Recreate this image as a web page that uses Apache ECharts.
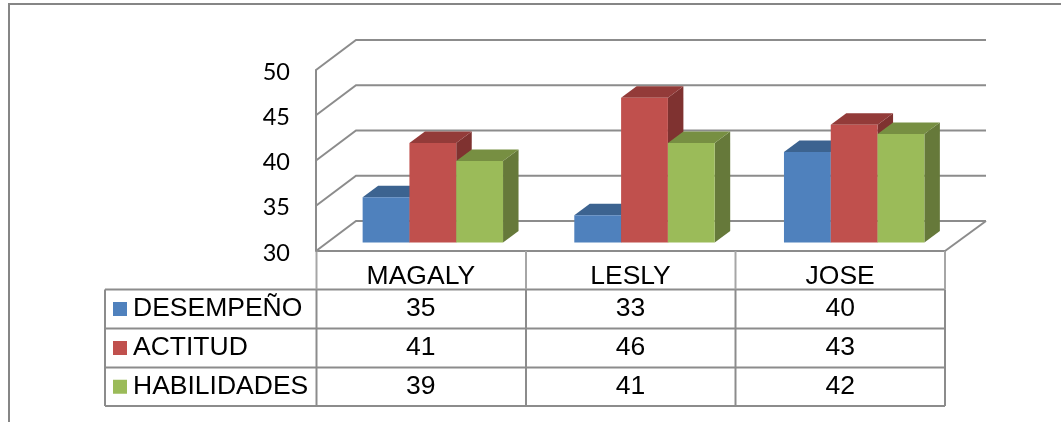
<!DOCTYPE html>
<html>
<head>
<meta charset="utf-8">
<style>
  html, body { margin: 0; padding: 0; background: #fff; }
  #chart { width: 1061px; height: 422px; }
</style>
<script src="https://cdn.jsdelivr.net/npm/echarts@6/dist/echarts.min.js"></script>
</head>
<body>
<div id="chart"></div>
<script>
// Scores per person
const categories = ['MAGALY', 'LESLY', 'JOSE'];
const seriesNames = ['DESEMPEÑO', 'ACTITUD', 'HABILIDADES'];
const desempeno = [35, 33, 40];
const actitud = [41, 46, 43];
const habilidades = [39, 41, 42];
const yTicks = [30, 35, 40, 45, 50];

const seriesValues = [desempeno, actitud, habilidades];
const frontColors = ['#4F81BD', '#C0504D', '#9BBB59'];
const topColors = ['#3C6390', '#933B39', '#778F42'];
const sideColors = ['#345680', '#7F3230', '#66793A'];

// Box projection: how far the back wall sits from the front plane
const WALL_DX = 40, WALL_DY = -30;
// Column placement inside that depth
const BAR_DX = 12, BAR_DY = -8.5, BAR_DEPTH_X = 15.5, BAR_DEPTH_Y = -11.5, BAR_W = 46.8;
// Column groups sit slightly wider apart than the table columns
const GROUP_SHIFT = [0, 2, 2];

const GRID = { left: 316, top: 70, width: 629, height: 181 };
const LINE = '#8c8c8c';
const HEADER_LINE = '#a6a6a6';
const SANS = '"Liberation Sans", Arial, sans-serif';
const TABLE_SIZE = 26.5;
const TABLE_FONT = TABLE_SIZE + 'px ' + SANS;

// Table rows: top of header row, then one row per series
const TABLE_X = [105, 316.5, 526, 735.5, 945];
const TABLE_Y = [251, 289.5, 328.5, 367.5, 406];

function polygon(points, fill) {
  return { type: 'polygon', shape: { points }, style: { fill, stroke: null } };
}

function wallItem(params, api) {
  const cs = params.coordSys;
  const y = api.coord([0, api.value(1)])[1];
  const x0 = cs.x, x1 = cs.x + cs.width;
  const isFloor = api.value(1) === yTicks[0];
  const children = [{
    type: 'polyline',
    shape: { points: [[x0, y], [x0 + WALL_DX, y + WALL_DY], [x1 + WALL_DX + 1, y + WALL_DY]] },
    style: { stroke: LINE, lineWidth: 2, fill: null }
  }];
  if (isFloor) {
    children.push({
      type: 'line',
      shape: { x1: x1 + WALL_DX + 1, y1: y + WALL_DY, x2: x1, y2: y },
      style: { stroke: LINE, lineWidth: 2 }
    });
  }
  return { type: 'group', children };
}

function barRenderer(idx) {
  return function (params, api) {
    const cat = api.value(0), val = api.value(1);
    const cx = api.coord([cat, val])[0] + BAR_DX + GROUP_SHIFT[cat];
    const yTop = api.coord([cat, val])[1] + BAR_DY;
    const yBase = api.coord([cat, yTicks[0]])[1] + BAR_DY;
    const x0 = cx - BAR_W * 1.5 + idx * BAR_W, x1 = x0 + BAR_W;
    return {
      type: 'group',
      children: [
        polygon([[x1, yTop], [x1 + BAR_DEPTH_X, yTop + BAR_DEPTH_Y], [x1 + BAR_DEPTH_X, yBase + BAR_DEPTH_Y], [x1, yBase]], sideColors[idx]),
        polygon([[x0, yTop], [x0 + BAR_DEPTH_X, yTop + BAR_DEPTH_Y], [x1 + BAR_DEPTH_X, yTop + BAR_DEPTH_Y], [x1, yTop]], topColors[idx]),
        { type: 'rect', shape: { x: x0, y: yTop, width: BAR_W, height: yBase - yTop }, style: { fill: frontColors[idx] } }
      ]
    };
  };
}

function cellRenderer(row) {
  return function (params, api) {
    const x = api.coord([api.value(0), yTicks[0]])[0];
    const y = (TABLE_Y[row + 1] + TABLE_Y[row + 2]) / 2;
    return {
      type: 'text',
      style: { text: String(api.value(1)), x, y, font: TABLE_FONT, fill: '#000', align: 'center', verticalAlign: 'middle' }
    };
  };
}

// Rules of the data table and the chart frame
const graphics = [
  { type: 'polyline', shape: { points: [[9, 422], [9, 4], [1061, 4]] }, style: { stroke: '#868686', lineWidth: 2, fill: null } }
];
const tableLine = (x1, y1, x2, y2, stroke) => ({ type: 'line', shape: { x1, y1, x2, y2 }, style: { stroke, lineWidth: 2 } });
TABLE_Y.forEach((y, i) => {
  graphics.push(tableLine(i === 0 ? TABLE_X[1] : TABLE_X[0], y, TABLE_X[4], y, LINE));
});
TABLE_X.forEach((x, i) => {
  if (i > 0) graphics.push(tableLine(x, TABLE_Y[0], x, TABLE_Y[1], HEADER_LINE));
  graphics.push(tableLine(x, TABLE_Y[1], x, TABLE_Y[4], LINE));
});
// Row headers with their colour keys
seriesNames.forEach((name, i) => {
  const mid = (TABLE_Y[i + 1] + TABLE_Y[i + 2]) / 2;
  graphics.push({ type: 'rect', shape: { x: 113, y: mid - 7, width: 14, height: 14 }, style: { fill: frontColors[i] } });
  graphics.push({ type: 'text', style: { text: name, x: 133, y: mid, font: TABLE_FONT, fill: '#000', align: 'left', verticalAlign: 'middle' } });
});

const chart = echarts.init(document.getElementById('chart'), null, { renderer: 'canvas' });
chart.setOption({
  animation: false,
  backgroundColor: '#fff',
  graphic: graphics,
  grid: GRID,
  xAxis: {
    type: 'category',
    data: categories,
    axisLine: { show: false },
    axisTick: { show: false },
    splitLine: { show: false },
    axisLabel: { color: '#000', fontFamily: SANS, fontSize: TABLE_SIZE, margin: 12 }
  },
  yAxis: {
    type: 'value',
    min: 30,
    max: 50,
    interval: 5,
    axisLine: { show: true, lineStyle: { color: LINE, width: 2 } },
    axisTick: { show: false },
    splitLine: { show: false },
    axisLabel: { color: '#000', fontFamily: 'Lato, "Open Sans", sans-serif', fontSize: 23.5, margin: 26, verticalAlign: 'top', lineHeight: 4 }
  },
  series: [
    { type: 'custom', name: 'walls', renderItem: wallItem, data: yTicks.map(t => [0, t]), z: 1 },
    ...seriesNames.map((name, i) => ({
      type: 'custom',
      name,
      renderItem: barRenderer(i),
      data: seriesValues[i].map((v, c) => [c, v]),
      z: 2 + i
    })),
    ...seriesNames.map((name, i) => ({
      type: 'custom',
      name: name + ' (tabla)',
      renderItem: cellRenderer(i),
      data: seriesValues[i].map((v, c) => [c, v]),
      z: 6
    }))
  ]
});
</script>
</body>
</html>
